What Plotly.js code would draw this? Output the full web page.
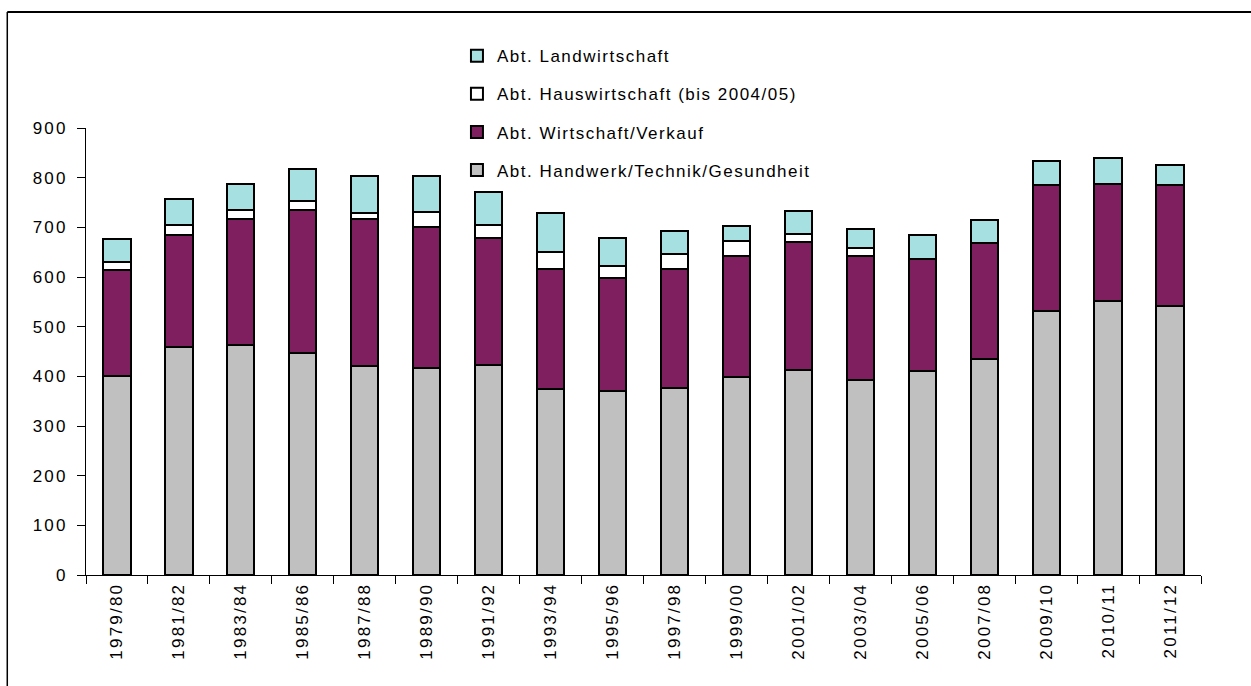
<!DOCTYPE html>
<html>
<head>
<meta charset="utf-8">
<script src="https://cdn.plot.ly/plotly-3.0.1.min.js"></script>
<style>
  html, body { margin: 0; padding: 0; background: #fff; }
  #chart { width: 1251px; height: 686px; }
  .xtick text, .ytick text { letter-spacing: 2.2px; }
  text.legendtext { letter-spacing: 1.5px; }
</style>
</head>
<body>
<div id="chart"></div>
<script>
const categories = ["1979/80","1981/82","1983/84","1985/86","1987/88","1989/90","1991/92","1993/94","1995/96","1997/98","1999/00","2001/02","2003/04","2005/06","2007/08","2009/10","2010/11","2011/12"];
const handwerk = [400,460,463,446,421,416,423,374,371,376,399,413,393,410,435,532,552,542];
const wirtschaft = [214,224,254,289,296,285,255,243,226,240,243,257,249,226,233,253,235,243];
const hauswirtschaft = [16,21,18,18,11,29,27,34,25,30,30,17,16,null,null,null,null,null];
const landwirtschaft = [46,52,52,64,75,73,67,78,56,47,31,46,39,48,47,49,53,40];

const seriesNames = ["Abt. Handwerk/Technik/Gesundheit","Abt. Wirtschaft/Verkauf","Abt. Hauswirtschaft (bis 2004/05)","Abt. Landwirtschaft"];
const seriesColors = ["#C0C0C0","#7F1F5F","#FFFFFF","#A6E0E0"];
const seriesData = [handwerk, wirtschaft, hauswirtschaft, landwirtschaft];

const FONT = "Liberation Sans, Arial, sans-serif";

const traces = seriesData.map((vals, i) => ({
  type: "bar",
  name: seriesNames[i],
  x: categories,
  y: vals,
  legendgroup: "g" + i,
  legendrank: 1000 - i,
  marker: { color: seriesColors[i], line: { color: "#000", width: 2 } },
  hoverinfo: "x+y+name"
}));

const boundaries = [];
for (let i = 0; i <= categories.length; i++) boundaries.push(i - 0.5);

const layout = {
  width: 1251, height: 686,
  margin: { l: 86, r: 50, t: 128, b: 111 },
  paper_bgcolor: "#fff", plot_bgcolor: "rgba(0,0,0,0)",
  barmode: "stack",
  bargap: 0.56,
  font: { family: FONT, size: 17, color: "#000" },
  showlegend: true,
  legend: {
    x: 0.3327, xanchor: "left", y: 1.201, yanchor: "top",
    traceorder: "grouped", tracegroupgap: 13,
    bgcolor: "rgba(0,0,0,0)", borderwidth: 0,
    font: { family: FONT, size: 17, color: "#000" }
  },
  xaxis: {
    type: "category", tickson: "boundaries",
    ticks: "outside", ticklen: 8, tickwidth: 1, tickcolor: "#000",
    showline: true, linecolor: "#000", linewidth: 1,
    showgrid: false, zeroline: false,
    tickangle: -90, tickfont: { family: FONT, size: 17, color: "#000" },
    range: [-0.5, categories.length - 0.5], fixedrange: true
  },
  yaxis: {
    range: [0, 900], dtick: 100, tick0: 0,
    ticks: "outside", ticklen: 8, tickwidth: 1, tickcolor: "#000",
    showline: true, linecolor: "#000", linewidth: 1,
    showgrid: false, zeroline: false, ticklabelstandoff: 6,
    tickfont: { family: FONT, size: 17, color: "#000" }, fixedrange: true
  },
  xaxis2: {
    overlaying: "x", anchor: "y", range: [-0.5, categories.length - 0.5],
    tickmode: "array", tickvals: boundaries, ticks: "inside", ticklen: 7,
    tickcolor: "#000", showticklabels: false, showline: false,
    showgrid: false, zeroline: false, fixedrange: true
  },
  yaxis2: {
    overlaying: "y", anchor: "x", side: "left", range: [0, 900], dtick: 100, tick0: 0,
    ticks: "inside", ticklen: 7, tickcolor: "#000", showticklabels: false,
    showline: false, showgrid: false, zeroline: false, fixedrange: true
  },
  shapes: [
    { type: "line", xref: "paper", yref: "paper", x0: -0.0706, x1: 1.1, y0: 1.2595, y1: 1.2595,
      line: { color: "#000", width: 2 } },
    { type: "line", xref: "paper", yref: "paper", x0: -0.0706, x1: -0.0706, y0: 1.2595, y1: -0.3,
      line: { color: "#000", width: 1.5 } }
  ]
};

Plotly.newPlot("chart", traces, layout, { displayModeBar: false, staticPlot: true });
</script>
</body>
</html>
